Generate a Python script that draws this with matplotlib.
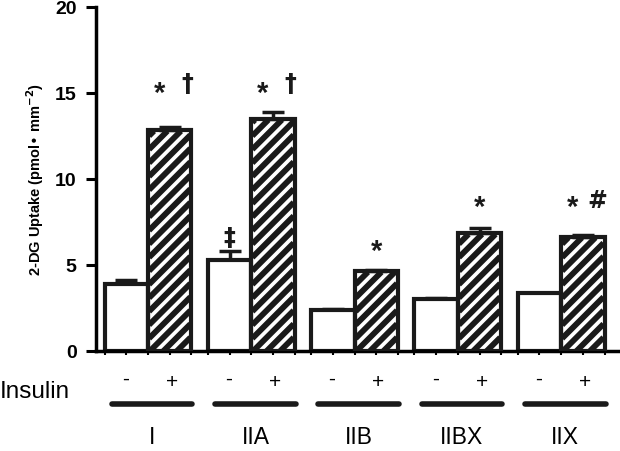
import matplotlib.pyplot as plt
from matplotlib.transforms import IdentityTransform
import numpy as np

plt.rcParams['font.family'] = ['Liberation Sans', 'DejaVu Sans']

# Data
fiber_types = ["I", "IIA", "IIB", "IIBX", "IIX"]
basal = [3.9, 5.3, 2.4, 3.0, 3.35]
basal_err = [0.2, 0.5, 0.05, 0.1, 0.03]
insulin = [12.85, 13.5, 4.65, 6.85, 6.65]
insulin_err = [0.2, 0.4, 0.08, 0.3, 0.1]
# significance marks: (group, bar side, symbol, height)
marks = [
    (0, '+', '*', 15.0), (0, '+', '\u2020', 15.6),
    (1, '+', '*', 15.0), (1, '+', '\u2020', 15.6),
    (1, '-', '\u2021', 6.6),
    (2, '+', '*', 5.8),
    (3, '+', '*', 8.4),
    (4, '+', '*', 8.4), (4, '+', '#', 8.8),
]

x = np.arange(len(fiber_types))
width = 0.42

fig = plt.figure(figsize=(6.2, 4.52), dpi=100)
ax = fig.add_axes([96/620, 1 - 352/452, 1 - 96/620, 344/452])
ax.set_ylim(0, 20)
ax.set_xlim(-0.504, 4.57)

ax.bar(x - width/2, basal, width, color='white', edgecolor='#1a1a1a',
       linewidth=3, zorder=2)
hatched = ax.bar(x + width/2, insulin, width, color='white',
                 edgecolor='#1a1a1a', linewidth=3, zorder=3)

# diagonal hatching drawn in pixel space, cut to each bar
gap = 13.5
for rect in hatched:
    rect.set_facecolor('none')
    bb = rect.get_window_extent()
    x0, x1, y0, y1 = bb.x0 + 1, bb.x1 - 1, bb.y0, bb.y1 - 1
    for c in np.arange(y0 - (x1 - x0), y1 + gap, gap):
        # line y = c + (x - x0)
        xa = max(x0, x0 + y0 - c)
        xb = min(x1, x0 + y1 - c)
        if xb <= xa:
            continue
        ax.plot([xa, xb], [c + xa - x0, c + xb - x0], color='#1a1a1a',
                lw=4.2, solid_capstyle='butt', transform=IdentityTransform(),
                clip_on=False, zorder=2.5)

ax.errorbar(x - width/2, basal, yerr=[np.zeros(5), basal_err], fmt='none',
            ecolor='#1a1a1a', elinewidth=2.5, capsize=8, capthick=2.5, zorder=1)
ax.errorbar(x + width/2, insulin, yerr=[np.zeros(5), insulin_err], fmt='none',
            ecolor='#1a1a1a', elinewidth=2.5, capsize=8, capthick=2.5, zorder=1)

# significance symbols
offsets = {'*': -0.1, '\u2020': 0.17, '\u2021': 0.0, '#': 0.14}
for g, side, sym, h in marks:
    xc = x[g] + (width/2 if side == '+' else -width/2)
    dx = offsets[sym] if side == '+' and g not in (2, 3) else 0.0
    if sym == '*':
        ax.text(xc + dx, h, sym, ha='center', va='center', fontsize=21,
                fontweight='bold', color='#1a1a1a')
    else:
        ax.text(xc + dx, h, sym, ha='center', va='center', fontsize=17,
                fontweight='bold', family='DejaVu Sans', color='#1a1a1a')

ax.set_yticks([0, 5, 10, 15, 20])
ax.tick_params(axis='y', direction='out', length=7, width=2.2,
               labelsize=14, pad=7)
for lbl in ax.get_yticklabels():
    lbl.set_fontweight('bold')

edges = []
for xi in x:
    edges += [xi - width, xi - width/2, xi, xi + width/2, xi + width]
ax.set_xticks(edges)
ax.set_xticklabels([])
ax.tick_params(axis='x', direction='out', length=3, width=1.5)

for s in ['top', 'right']:
    ax.spines[s].set_visible(False)
ax.spines['left'].set_linewidth(2.5)
ax.spines['bottom'].set_linewidth(2.5)

ax.set_ylabel("2-DG Uptake (pmol\u2022 mm$^{\\mathbf{-2}}$)", fontsize=10.5,
              fontweight='bold', labelpad=6)

# Insulin -/+ labels, group bars and names
for xi, name in zip(x, fiber_types):
    ax.text(xi - width/2 - 0.01, -1.6, '-', ha='center', va='center',
            fontsize=15, clip_on=False)
    ax.text(xi + width/2 + 0.02, -1.75, '+', ha='center', va='center',
            fontsize=15, clip_on=False)
    ax.plot([xi - 0.35, xi + 0.43], [-3.1, -3.1], color='#1a1a1a', lw=4,
            solid_capstyle='round', clip_on=False)
    ax.text(xi + 0.04, -5.0, name, ha='center', va='center', fontsize=16.5,
            clip_on=False)
fig.text(0.0, 1 - 392/452, 'Insulin', ha='left', va='center', fontsize=17.5)

fig.savefig('out.png', dpi=100)
